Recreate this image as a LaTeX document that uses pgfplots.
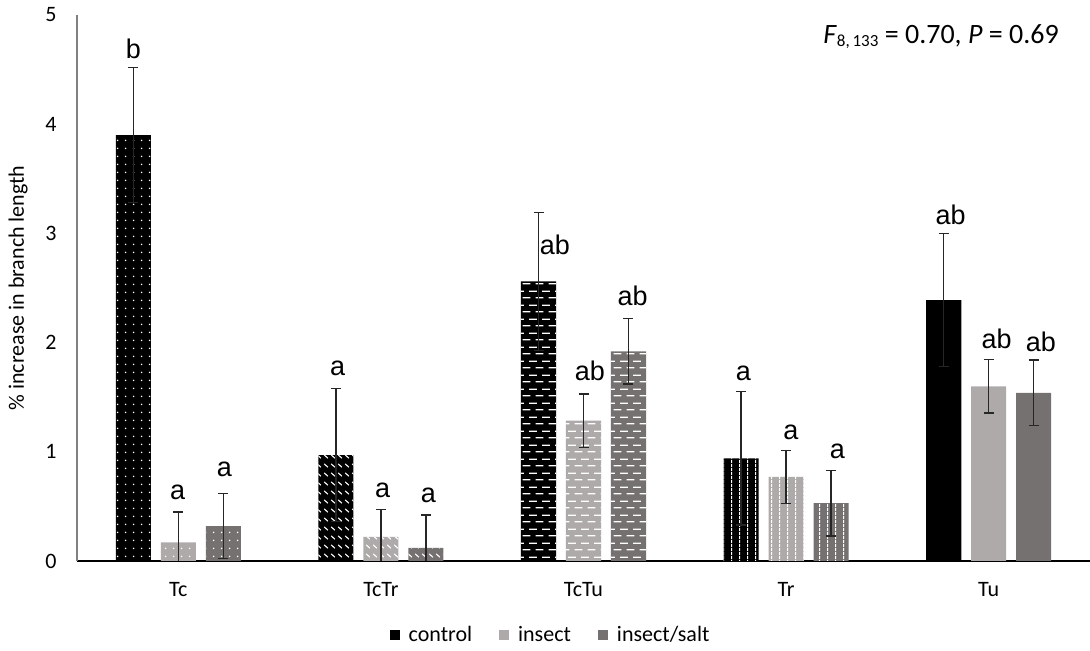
\documentclass[border=0pt]{standalone}
\usepackage{pgfplots}
\pgfplotsset{compat=1.18}
\usepackage{fontspec}
\setmainfont{Carlito}
\newfontfamily\arialf{Liberation Sans}
\usetikzlibrary{patterns}

\definecolor{insectc}{HTML}{AEAAAA}
\definecolor{saltc}{HTML}{767171}
\definecolor{errc}{HTML}{262626}
\definecolor{yaxc}{HTML}{808080}

% sparse white dots
\pgfdeclarepatternformonly{tcdots}{\pgfpointorigin}{\pgfpoint{3.8pt}{3.8pt}}{\pgfpoint{3.8pt}{3.8pt}}{%
  \pgfpathcircle{\pgfpoint{1.9pt}{1.9pt}}{0.45pt}\pgfusepath{fill}}
% short diagonal dashes
\pgfdeclarepatternformonly{tctrdash}{\pgfpointorigin}{\pgfpoint{3.6pt}{4.6pt}}{\pgfpoint{3.6pt}{4.6pt}}{%
  \pgfsetlinewidth{0.6pt}%
  \pgfpathmoveto{\pgfpoint{0.7pt}{3.3pt}}\pgfpathlineto{\pgfpoint{2.7pt}{1.5pt}}\pgfusepath{stroke}}
% staggered horizontal dashes
\pgfdeclarepatternformonly{tctudash}{\pgfpointorigin}{\pgfpoint{6.7pt}{7pt}}{\pgfpoint{6.7pt}{7pt}}{%
  \pgfsetlinewidth{0.7pt}%
  \pgfpathmoveto{\pgfpoint{0.3pt}{1.75pt}}\pgfpathlineto{\pgfpoint{4.3pt}{1.75pt}}%
  \pgfpathmoveto{\pgfpoint{3.65pt}{5.25pt}}\pgfpathlineto{\pgfpoint{6.7pt}{5.25pt}}%
  \pgfpathmoveto{\pgfpoint{0pt}{5.25pt}}\pgfpathlineto{\pgfpoint{0.95pt}{5.25pt}}\pgfusepath{stroke}}
% vertical stripes
\pgfdeclarepatternformonly{trvert}{\pgfpointorigin}{\pgfpoint{4pt}{2pt}}{\pgfpoint{4pt}{2pt}}{%
  \pgfpathrectangle{\pgfpoint{1.7pt}{0pt}}{\pgfpoint{0.6pt}{2pt}}\pgfusepath{fill}}

\begin{document}
\begin{tikzpicture}
\begin{axis}[
  scale only axis,
  width=506.5pt, height=273pt,
  xmin=-0.5, xmax=4.5,
  ymin=0, ymax=5,
  ytick={0,1,2,3,4,5},
  xtick={0,1,2,3,4},
  xticklabels={Tc,TcTr,TcTu,Tr,Tu},
  axis x line=bottom, axis y line=left,
  x axis line style={-, draw=black, line width=0.6pt},
  y axis line style={-, draw=yaxc, line width=0.6pt},
  major tick length=0pt,
  tick style={draw=none},
  /pgf/number format/assume math mode=true,
  ticklabel style={font=\fontsize{11}{13}\selectfont},
  yticklabel style={anchor=center, xshift=-13pt},
  xticklabel style={anchor=base, yshift=-17.8pt},
  every axis y label/.style={at={(axis description cs:-0.0582,0.5)}, rotate=90, anchor=center, font=\fontsize{11}{13}\selectfont},
  ylabel={\% increase in branch length},
  legend image code/.code={\fill[#1] (0pt,-2.5pt) rectangle (5pt,2.5pt);},
  legend style={draw=none, at={(0.468,-0.1355)}, anchor=center, legend columns=3,
    font=\fontsize{11}{13}\selectfont,
    /tikz/every odd column/.append style={column sep=3pt},
    /tikz/every even column/.append style={column sep=12pt},
    nodes={inner sep=1.5pt}},
]
\addlegendimage{fill=black, draw=none}
\addlegendentry{control}
\addlegendimage{fill=insectc, draw=none}
\addlegendentry{insect}
\addlegendimage{fill=saltc, draw=none}
\addlegendentry{insect/salt}

% filled bars
\addplot[ybar, bar width=0.173, bar shift=0pt, fill=black, draw=none, forget plot]
  coordinates {(-0.222,3.90) (0.778,0.97) (1.778,2.56) (2.778,0.94) (3.778,2.39)};
\addplot[ybar, bar width=0.173, bar shift=0pt, fill=insectc, draw=none, forget plot]
  coordinates {(0,0.17) (1,0.22) (2,1.285) (3,0.77) (4,1.60)};
\addplot[ybar, bar width=0.173, bar shift=0pt, fill=saltc, draw=none, forget plot]
  coordinates {(0.222,0.32) (1.222,0.12) (2.222,1.92) (3.222,0.53) (4.222,1.54)};

% pattern overlays
\addplot[ybar, bar width=0.173, bar shift=0pt, draw=none, pattern=tcdots, pattern color=white, forget plot]
  coordinates {(-0.222,3.90) (0,0.17) (0.222,0.32)};
\addplot[ybar, bar width=0.173, bar shift=0pt, draw=none, pattern=tctrdash, pattern color=white, forget plot]
  coordinates {(0.778,0.97) (1,0.22) (1.222,0.12)};
\addplot[ybar, bar width=0.173, bar shift=0pt, draw=none, pattern=tctudash, pattern color=white, forget plot]
  coordinates {(1.778,2.56) (2,1.285) (2.222,1.92)};
\addplot[ybar, bar width=0.173, bar shift=0pt, draw=none, pattern=trvert, pattern color=white, forget plot]
  coordinates {(2.778,0.94) (3,0.77) (3.222,0.53)};

% error bars
\addplot[draw=none, mark=none, forget plot,
  error bars/.cd, y dir=both, y explicit,
  error bar style={draw=errc, line width=0.65pt, solid},
  error mark options={rotate=90, mark size=2.5pt, draw=errc, line width=0.65pt}]
  coordinates {(-0.222,3.90) +- (0,0.62) (0.778,0.97) +- (0,0.61) (1.778,2.56) +- (0,0.63) (2.778,0.94) +- (0,0.61) (3.778,2.39) +- (0,0.61)};
\addplot[draw=none, mark=none, forget plot,
  error bars/.cd, y dir=both, y explicit,
  error bar style={draw=errc, line width=0.65pt, solid},
  error mark options={rotate=90, mark size=2.5pt, draw=errc, line width=0.65pt}]
  coordinates {(0,0.17) +- (0,0.28) (1,0.22) +- (0,0.25) (2,1.285) +- (0,0.245) (3,0.77) +- (0,0.245) (4,1.60) +- (0,0.245)};
\addplot[draw=none, mark=none, forget plot,
  error bars/.cd, y dir=both, y explicit,
  error bar style={draw=errc, line width=0.65pt, solid},
  error mark options={rotate=90, mark size=2.5pt, draw=errc, line width=0.65pt}]
  coordinates {(0.222,0.32) +- (0,0.30) (1.222,0.12) +- (0,0.30) (2.222,1.92) +- (0,0.30) (3.222,0.53) +- (0,0.30) (4.222,1.54) +- (0,0.30)};

% significance letters
\begin{scope}[every node/.style={font=\arialf\fontsize{13.5}{15}\selectfont, inner sep=0pt, anchor=center}]
\node at (axis cs:-0.222,4.686) {b};
\node at (axis cs:-0.003,0.632) {a};
\node at (axis cs:0.227,0.836) {a};
\node at (axis cs:0.787,1.760) {a};
\node at (axis cs:1.009,0.650) {a};
\node at (axis cs:1.234,0.602) {a};
\node at (axis cs:1.859,2.894) {ab};
\node at (axis cs:2.032,1.745) {ab};
\node at (axis cs:2.243,2.425) {ab};
\node at (axis cs:2.789,1.722) {a};
\node at (axis cs:3.023,1.175) {a};
\node at (axis cs:3.253,1.001) {a};
\node at (axis cs:3.812,3.171) {ab};
\node at (axis cs:4.039,2.031) {ab};
\node at (axis cs:4.257,2.004) {ab};
\end{scope}
\node[anchor=base, inner sep=0pt, font=\fontsize{14}{16}\selectfont] at (axis cs:3.765,4.741)
  {\textit{F}{\fontsize{8.5}{10}\selectfont\raisebox{-1.7pt}{8,\,133}} = 0.70, \textit{P} = 0.69};
\end{axis}
\pgfresetboundingbox
\path (-38.5pt,-45pt) rectangle (506.5pt,280.5pt);
\end{tikzpicture}
\end{document}
